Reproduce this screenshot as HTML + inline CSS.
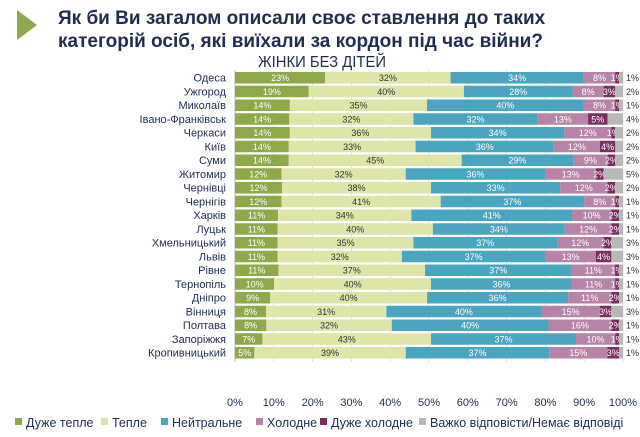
<!DOCTYPE html>
<html><head><meta charset="utf-8"><style>
body{margin:0;width:640px;height:432px;background:#fff;overflow:hidden;font-family:"Liberation Sans",sans-serif;}
</style></head><body>
<svg id="s" width="640" height="432" xmlns="http://www.w3.org/2000/svg" font-family="Liberation Sans, sans-serif">
<polygon points="17,10 37,25 17,40" fill="#8fa84a"/>
<text x="58" y="24" font-size="19" font-weight="bold" fill="#1f2d4e">Як би Ви загалом описали своє ставлення до таких</text>
<text x="58" y="47" font-size="19" font-weight="bold" fill="#1f2d4e">категорій осіб, які виїхали за кордон під час війни?</text>
<text x="322" y="67" font-size="16" fill="#1f2d4e" text-anchor="middle" textLength="128" lengthAdjust="spacingAndGlyphs">ЖІНКИ БЕЗ ДІТЕЙ</text>
</svg>
<script>
var d=[["Одеса",23,32,34,8,1,1],["Ужгород",19,40,28,8,3,2],["Миколаїв",14,35,40,8,1,1],["Івано-Франківськ",14,32,32,13,5,4],["Черкаси",14,36,34,12,1,2],["Київ",14,33,36,12,4,2],["Суми",14,45,29,9,2,2],["Житомир",12,32,36,13,2,5],["Чернівці",12,38,33,12,2,2],["Чернігів",12,41,37,8,1,1],["Харків",11,34,41,10,2,1],["Луцьк",11,40,34,12,2,1],["Хмельницький",11,35,37,12,2,3],["Львів",11,32,37,13,4,3],["Рівне",11,37,37,11,1,1],["Тернопіль",10,40,36,11,1,1],["Дніпро",9,40,36,11,2,1],["Вінниця",8,31,40,15,3,3],["Полтава",8,32,40,16,2,1],["Запоріжжя",7,43,37,10,1,1],["Кропивницький",5,39,37,15,3,1]];
var c=["#8fa84a","#dde6a8","#4aa5c0","#b883a8","#7b2d5f","#b8b8b8"];
var tc=["#fff","#333","#fff","#fff","#fff","#333"];
var x0=235,W=388,h="";
for(var i=0;i<=10;i++){var x=x0+W*i/10;h+='<line x1="'+x+'" y1="70" x2="'+x+'" y2="362" stroke="#e4e4e4" stroke-width="1"/>';h+='<text x="'+x+'" y="406" font-size="11" fill="#1f2d4e" text-anchor="middle">'+(i*10)+'%</text>';}
h+='<line x1="'+x0+'" y1="70" x2="'+x0+'" y2="362" stroke="#bbb"/>';
d.forEach(function(r,i){var y=72+i*13.75,s=0;for(var k=1;k<7;k++)s+=r[k];var x=x0;
h+='<text x="226" y="'+(y+9.5)+'" font-size="11" fill="#1f2d4e" text-anchor="end">'+r[0]+'</text>';
for(var k=1;k<7;k++){var w=W*r[k]/s;h+='<rect x="'+x+'" y="'+y+'" width="'+w+'" height="11.5" fill="'+c[k-1]+'"/>';
if(k<6)h+='<text x="'+(x+w/2)+'" y="'+(y+9)+'" font-size="9" fill="'+tc[k-1]+'" text-anchor="middle">'+r[k]+'%</text>';
else h+='<text x="'+(x0+W+3)+'" y="'+(y+9)+'" font-size="9" fill="#333">'+r[k]+'%</text>';
x+=w;}});
var L=[["Дуже тепле",15],["Тепле",101],["Нейтральне",161],["Холодне",256],["Дуже холодне",320],["Важко відповісти/Немає відповіді",419]];
L.forEach(function(l,i){h+='<rect x="'+l[1]+'" y="418" width="7" height="7" fill="'+c[i]+'"/><text x="'+(l[1]+11)+'" y="427" font-size="12.5" fill="#1f2d4e">'+l[0]+'</text>';});
document.getElementById("s").insertAdjacentHTML("beforeend",h);
</script>
</body></html>
